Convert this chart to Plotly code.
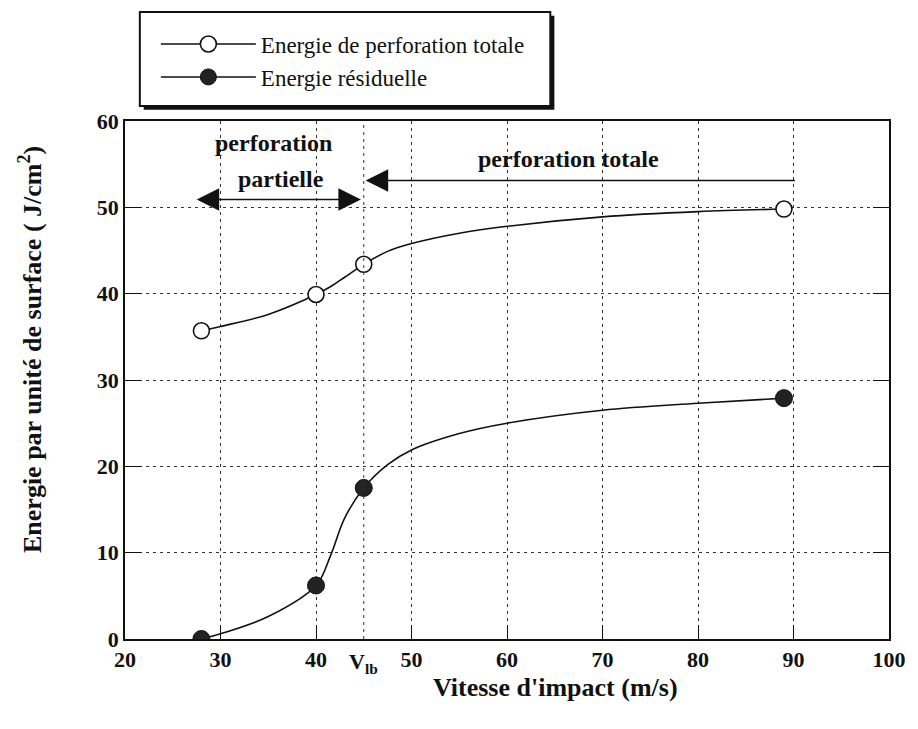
import plotly.graph_objects as go

# ---- data ----
impact_speed = [28, 40, 45, 89]
energy_total = [35.7, 39.9, 43.4, 49.8]
energy_residual = [0.0, 6.2, 17.5, 27.9]

# fitted curves as drawn in the reference
curve_speed = [28, 30, 35, 40, 41.5, 43, 45, 47.5, 50, 55, 60, 70, 80, 89]
curve_total = [35.7, 36.2, 37.6, 39.9, 40.8, 41.9, 43.4, 44.9, 45.8, 47.0, 47.8, 48.9, 49.5, 49.8]
curve_residual = [0.0, 0.6, 2.6, 6.2, 9.6, 14.0, 17.5, 20.2, 21.9, 23.8, 25.0, 26.5, 27.3, 27.9]

V_LB = 45
x_ticks = [20, 30, 40, 50, 60, 70, 80, 90, 100]
y_ticks = [0, 10, 20, 30, 40, 50, 60]

partial_range = [27.35, 44.7]
partial_arrow_y = 50.9
total_range = [45.2, 90.3]
total_arrow_y = 53.1

SERIF = "Liberation Serif"
BLACK = "#111111"

fig = go.Figure()

# curves
for cy in (curve_total, curve_residual):
    fig.add_trace(go.Scatter(x=curve_speed, y=cy, mode="lines",
                             line=dict(color=BLACK, width=1.6, shape="spline", smoothing=1.0),
                             showlegend=False, hoverinfo="skip"))

open_marker = dict(symbol="circle", size=16, color="white", line=dict(color=BLACK, width=1.6))
full_marker = dict(symbol="circle", size=17, color="#222222", line=dict(color=BLACK, width=1))

# data points
fig.add_trace(go.Scatter(x=impact_speed, y=energy_total, mode="markers",
                         marker=open_marker, showlegend=False))
fig.add_trace(go.Scatter(x=impact_speed, y=energy_residual, mode="markers",
                         marker=full_marker, showlegend=False))

# legend entries
fig.add_trace(go.Scatter(x=[None], y=[None], mode="lines+markers",
                         name="Energie de perforation totale",
                         line=dict(color=BLACK, width=1.6), marker=open_marker))
fig.add_trace(go.Scatter(x=[None], y=[None], mode="lines+markers",
                         name="Energie résiduelle",
                         line=dict(color=BLACK, width=1.6), marker=full_marker))

grid = dict(showgrid=True, gridcolor="#333333", gridwidth=1, griddash="3px,4px")
tickfont = dict(family=SERIF, size=22, color=BLACK, weight="bold")

fig.update_xaxes(range=[20, 100], tickvals=x_ticks,
                 showline=True, linecolor=BLACK, linewidth=1.5, mirror=True,
                 ticks="inside", ticklen=14, tickcolor=BLACK, tickwidth=1.2,
                 tickfont=tickfont, zeroline=False, **grid)
fig.update_yaxes(range=[0, 60], tickvals=y_ticks,
                 showline=True, linecolor=BLACK, linewidth=1.5, mirror="ticks",
                 ticks="inside", ticklen=16, tickcolor=BLACK, tickwidth=1.2,
                 tickfont=tickfont, zeroline=False, **grid)

# V_lb dashed line
fig.add_shape(type="line", xref="x", yref="paper", x0=V_LB, x1=V_LB, y0=0, y1=1,
              line=dict(color="#333333", width=1, dash="3px,4px"))

# legend frame with shadow
fig.add_shape(type="rect", xref="paper", yref="paper", layer="below",
              x0=0.0245, x1=0.5620, y0=1.0215, y1=1.203,
              fillcolor=BLACK, line=dict(width=0))
fig.add_shape(type="rect", xref="paper", yref="paper", layer="below",
              x0=0.0194, x1=0.5567, y0=1.029, y1=1.2104,
              fillcolor="white", line=dict(color=BLACK, width=2))

ann_font = dict(family=SERIF, size=24, color=BLACK)
title_font = dict(family=SERIF, size=26, color=BLACK)
annotations = [
    dict(x=V_LB, y=0, xref="x", yref="paper", yanchor="top", yshift=-8,
         text="<b>V<sub>lb</sub></b>", showarrow=False,
         font=dict(family=SERIF, size=22, color=BLACK)),
    dict(x=0.564, y=-0.094, xref="paper", yref="paper", yanchor="middle",
         text="<b>Vitesse d'impact (m/s)</b>", showarrow=False, font=title_font),
    dict(x=-0.123, y=0.558, xref="paper", yref="paper", xanchor="center", textangle=-90,
         text="<b>Energie par unité de surface ( J/cm<sup>2</sup>)</b>", showarrow=False,
         font=title_font),
    dict(x=35.5, y=57.5, xref="x", yref="y", text="<b>perforation</b>", showarrow=False,
         font=ann_font),
    dict(x=36.3, y=53.3, xref="x", yref="y", text="<b>partielle</b>", showarrow=False,
         font=ann_font),
    dict(x=66.4, y=55.6, xref="x", yref="y", text="<b>perforation totale</b>", showarrow=False,
         font=ann_font),
    dict(x=partial_range[1], y=partial_arrow_y, ax=partial_range[0], ay=partial_arrow_y,
         xref="x", yref="y", axref="x", ayref="y", text="", showarrow=True,
         arrowhead=2, arrowside="end+start", arrowsize=3, arrowwidth=1.5, arrowcolor=BLACK),
    dict(x=total_range[0], y=total_arrow_y, ax=total_range[1], ay=total_arrow_y,
         xref="x", yref="y", axref="x", ayref="y", text="", showarrow=True,
         arrowhead=2, arrowsize=3, arrowwidth=1.5, arrowcolor=BLACK),
]

fig.update_layout(
    width=910, height=721,
    margin=dict(l=117, r=20, t=113, b=90),
    paper_bgcolor="white", plot_bgcolor="white",
    annotations=annotations,
    legend=dict(x=0.0404, y=1.19, xanchor="left", yanchor="top",
                bgcolor="rgba(0,0,0,0)", borderwidth=0,
                itemwidth=95, tracegroupgap=0,
                font=dict(family=SERIF, size=23, color=BLACK)),
)

fig.write_html("out.html")
